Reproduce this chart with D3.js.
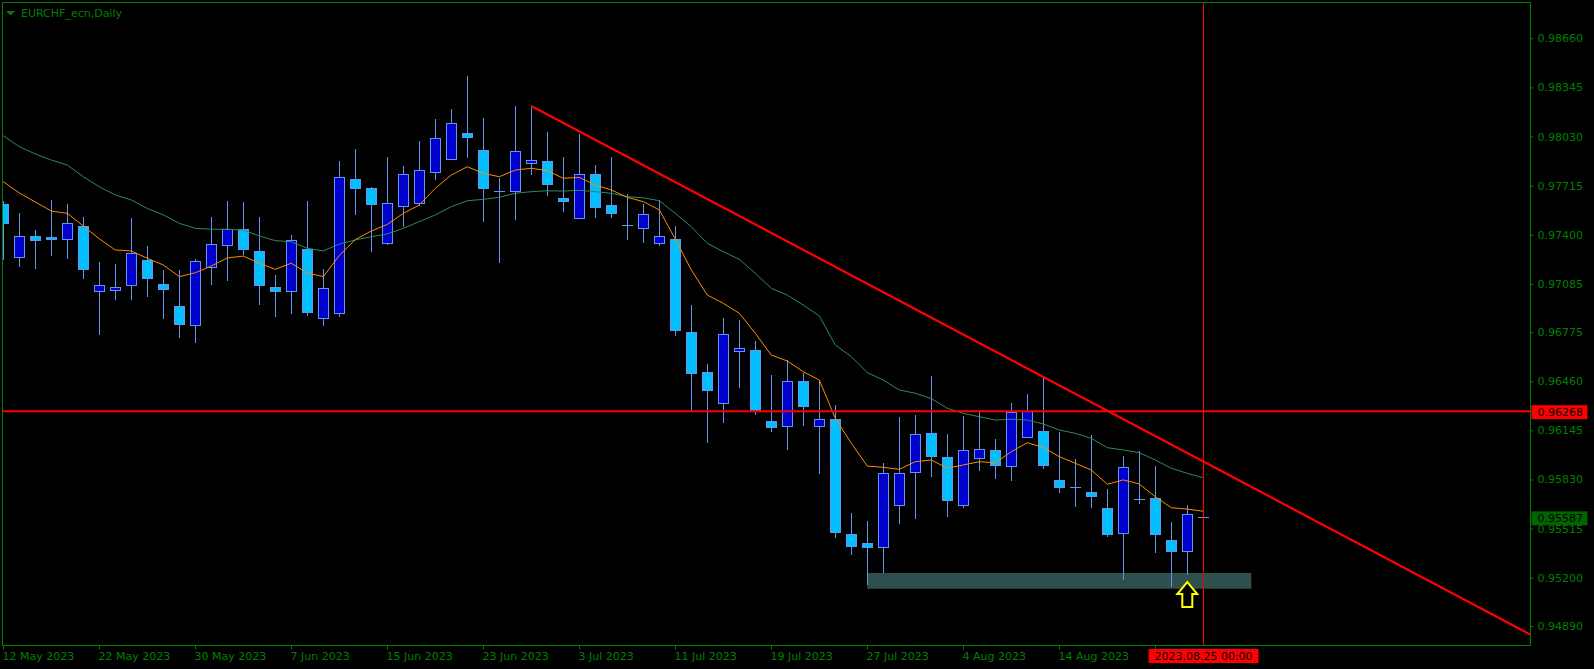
<!DOCTYPE html>
<html><head><meta charset="utf-8">
<script src="https://cdn.jsdelivr.net/npm/d3@7"></script>
<style>html,body{margin:0;padding:0;background:#000;overflow:hidden}svg{display:block}</style>
</head><body>
<svg id="chart" width="1594" height="669"></svg>
<script>
// ---- data ----
const dates = ["2023-05-12","2023-05-15","2023-05-16","2023-05-17","2023-05-18","2023-05-19","2023-05-22","2023-05-23","2023-05-24","2023-05-25","2023-05-26","2023-05-29","2023-05-30","2023-05-31",
"2023-06-01","2023-06-02","2023-06-05","2023-06-06","2023-06-07","2023-06-08","2023-06-09","2023-06-12","2023-06-13","2023-06-14","2023-06-15","2023-06-16","2023-06-19","2023-06-20","2023-06-21","2023-06-22","2023-06-23","2023-06-26","2023-06-27","2023-06-28","2023-06-29","2023-06-30",
"2023-07-03","2023-07-04","2023-07-05","2023-07-06","2023-07-07","2023-07-10","2023-07-11","2023-07-12","2023-07-13","2023-07-14","2023-07-17","2023-07-18","2023-07-19","2023-07-20","2023-07-21","2023-07-24","2023-07-25","2023-07-26","2023-07-27","2023-07-28","2023-07-31",
"2023-08-01","2023-08-02","2023-08-03","2023-08-04","2023-08-07","2023-08-08","2023-08-09","2023-08-10","2023-08-11","2023-08-14","2023-08-15","2023-08-16","2023-08-17","2023-08-18","2023-08-21","2023-08-22","2023-08-23","2023-08-24","2023-08-25"];
const open = [0.97597,0.97255,0.97390,0.97383,0.97371,0.97454,0.97037,0.97043,0.97076,0.97238,0.97084,0.96943,0.96819,0.97191,0.97332,0.97435,0.97296,0.97065,0.97037,0.97308,0.96864,0.96896,0.97757,0.97698,0.97345,0.97582,0.97602,0.97800,0.97884,0.98051,0.97942,0.97679,0.97679,0.97858,0.97871,0.97634,0.97505,0.97788,0.97589,0.97464,0.97441,0.97345,0.97371,0.96774,0.96517,0.96319,0.96656,0.96659,0.96203,0.96171,0.96460,0.96175,0.96216,0.95478,0.95420,0.95395,0.95664,0.95876,0.96126,0.95972,0.95664,0.95970,0.96019,0.95918,0.96100,0.96141,0.95827,0.95780,0.95748,0.95645,0.95485,0.95707,0.95709,0.95440,0.95373,0.95587];
const high = [0.97616,0.97539,0.97430,0.97623,0.97597,0.97514,0.97225,0.97212,0.97507,0.97328,0.97174,0.97174,0.97244,0.97514,0.97616,0.97610,0.97514,0.97142,0.97398,0.97616,0.97180,0.97873,0.97950,0.97706,0.97899,0.97841,0.98001,0.98142,0.98207,0.98418,0.98147,0.97762,0.98226,0.98226,0.98059,0.97899,0.98046,0.97845,0.97899,0.97659,0.97595,0.97621,0.97456,0.96949,0.96571,0.96866,0.96853,0.96718,0.96500,0.96596,0.96511,0.96464,0.96308,0.95615,0.95564,0.95934,0.96231,0.96242,0.96494,0.96122,0.96237,0.96265,0.96090,0.96321,0.96380,0.96481,0.96134,0.95961,0.96115,0.95769,0.95980,0.96013,0.95916,0.95555,0.95666,0.95587];
const low = [0.97242,0.97201,0.97188,0.97270,0.97253,0.97124,0.96765,0.96990,0.96990,0.97009,0.96868,0.96746,0.96714,0.97086,0.97111,0.97278,0.96958,0.96881,0.96900,0.96883,0.96823,0.96881,0.97535,0.97296,0.97340,0.97458,0.97591,0.97759,0.97884,0.97900,0.97490,0.97227,0.97503,0.97791,0.97657,0.97554,0.97505,0.97516,0.97516,0.97374,0.97355,0.97332,0.96759,0.96276,0.96072,0.96201,0.96425,0.96250,0.96143,0.96027,0.96179,0.95873,0.95463,0.95354,0.95159,0.95238,0.95549,0.95585,0.95854,0.95598,0.95655,0.95891,0.95841,0.95828,0.96100,0.95905,0.95751,0.95662,0.95655,0.95469,0.95193,0.95681,0.95367,0.95148,0.95222,0.95587];
const close = [0.97473,0.97390,0.97364,0.97374,0.97473,0.97178,0.97076,0.97063,0.97281,0.97120,0.97054,0.96829,0.97231,0.97339,0.97435,0.97306,0.97076,0.97037,0.97364,0.96906,0.97056,0.97768,0.97698,0.97595,0.97602,0.97788,0.97813,0.98019,0.98115,0.98025,0.97698,0.97679,0.97935,0.97877,0.97723,0.97614,0.97788,0.97576,0.97537,0.97464,0.97531,0.97390,0.96791,0.96511,0.96406,0.96761,0.96671,0.96276,0.96168,0.96460,0.96303,0.96216,0.95495,0.95405,0.95399,0.95870,0.95870,0.96120,0.95979,0.95700,0.96019,0.96023,0.95925,0.96261,0.96269,0.95925,0.95780,0.95780,0.95726,0.95478,0.95908,0.95707,0.95478,0.95373,0.95607,0.95587];
const maFast = [0.97740,0.97668,0.97610,0.97552,0.97537,0.97456,0.97374,0.97302,0.97296,0.97249,0.97206,0.97131,0.97156,0.97199,0.97251,0.97263,0.97217,0.97178,0.97217,0.97154,0.97131,0.97267,0.97369,0.97424,0.97466,0.97537,0.97591,0.97698,0.97783,0.97836,0.97794,0.97772,0.97815,0.97826,0.97811,0.97762,0.97768,0.97719,0.97687,0.97640,0.97612,0.97559,0.97372,0.97174,0.97013,0.96960,0.96896,0.96768,0.96628,0.96590,0.96521,0.96468,0.96222,0.96062,0.95916,0.95908,0.95895,0.95944,0.95955,0.95902,0.95923,0.95944,0.95937,0.96008,0.96066,0.96036,0.95976,0.95934,0.95891,0.95799,0.95827,0.95801,0.95719,0.95649,0.95640,0.95626];
const maSlow = [0.98035,0.97965,0.97918,0.97879,0.97847,0.97772,0.97708,0.97655,0.97623,0.97569,0.97527,0.97473,0.97441,0.97435,0.97435,0.97430,0.97392,0.97362,0.97355,0.97313,0.97296,0.97340,0.97366,0.97387,0.97405,0.97441,0.97484,0.97527,0.97580,0.97618,0.97627,0.97640,0.97666,0.97676,0.97682,0.97680,0.97685,0.97676,0.97666,0.97644,0.97637,0.97618,0.97537,0.97451,0.97345,0.97291,0.97242,0.97153,0.97056,0.97013,0.96949,0.96879,0.96693,0.96618,0.96515,0.96468,0.96404,0.96383,0.96349,0.96287,0.96254,0.96233,0.96211,0.96216,0.96211,0.96186,0.96147,0.96126,0.96094,0.96034,0.96019,0.96002,0.95955,0.95902,0.95869,0.95841];
const yTickValues = [0.98660,0.98345,0.98030,0.97715,0.97400,0.97085,0.96775,0.96460,0.96145,0.95830,0.95515,0.95200,0.94890];
const xTickIndex = [0,6,12,18,24,30,36,42,48,54,60,66,72];
const xTickLabels = ["12 May 2023","22 May 2023","30 May 2023","7 Jun 2023","15 Jun 2023","23 Jun 2023","3 Jul 2023","11 Jul 2023","19 Jul 2023","27 Jul 2023","4 Aug 2023","14 Aug 2023"];
const titleText = "EURCHF_ecn,Daily";
const hLinePrice = 0.96268;
const lastPrice = 0.95587;
const trendIdx = [33, 95];
const trendPrice = [0.98226, 0.94859];
const zoneIdx = [54, 78];
const zonePrice = [0.95230, 0.95129];
const arrowIdx = 74, arrowPrice = 0.95172;
const cursorIdx = 75, cursorLabel = "2023.08.25 00:00";

// ---- layout ----
const L = 2.5, T = 2.5, R = 1530.5, B = 645.5;
const GREEN = "#008000", FONT = "DejaVu Sans, Verdana, sans-serif";
const svg = d3.select("#chart");
svg.append("rect").attr("width",1594).attr("height",669).attr("fill","#000");

const x = d3.scaleLinear().domain([0, 95]).range([3.3, 1523.3]);
const y = d3.scaleLinear().domain([0.94890, 0.98660]).range([626, 38.3]);
const px = i => Math.round(x(i));
const py = v => Math.round(y(v));

svg.append("defs").append("clipPath").attr("id","plot")
  .append("rect").attr("x",L+0.5).attr("y",T+0.5).attr("width",R-L-1).attr("height",B-T-1);
const plot = svg.append("g").attr("clip-path","url(#plot)");

// support zone (background)
plot.append("rect")
  .attr("x", x(zoneIdx[0])).attr("width", x(zoneIdx[1]) - x(zoneIdx[0]))
  .attr("y", y(zonePrice[0])).attr("height", y(zonePrice[1]) - y(zonePrice[0]))
  .attr("fill","#2F4F4F");

// candles
const idx = d3.range(open.length);
const WICK = "#6495ED";
const cg = plot.append("g");
cg.selectAll("line.wick").data(idx).join("line")
  .attr("x1", i => px(i)+0.5).attr("x2", i => px(i)+0.5)
  .attr("y1", i => py(high[i])).attr("y2", i => py(low[i])+1)
  .attr("stroke", WICK).attr("stroke-width",1);
cg.selectAll("rect.body").data(idx.filter(i => Math.abs(py(open[i]) - py(close[i])) >= 1)).join("rect")
  .attr("x", i => px(i)-5+0.5).attr("width",10)
  .attr("y", i => Math.min(py(open[i]), py(close[i]))+0.5)
  .attr("height", i => Math.abs(py(open[i]) - py(close[i])))
  .attr("fill", i => close[i] > open[i] ? "#0000CD" : "#00BFFF")
  .attr("stroke", WICK).attr("stroke-width",1);
cg.selectAll("line.doji").data(idx.filter(i => Math.abs(py(open[i]) - py(close[i])) < 1)).join("line")
  .attr("x1", i => px(i)-5).attr("x2", i => px(i)+6)
  .attr("y1", i => py(close[i])+0.5).attr("y2", i => py(close[i])+0.5)
  .attr("stroke", WICK).attr("stroke-width",1);

// moving averages
const lineGen = arr => d3.line().x((d,i) => x(i)).y(d => y(d))(arr);
plot.append("path").attr("d", lineGen(maSlow)).attr("fill","none").attr("stroke","#2E8B57").attr("stroke-width",1);
plot.append("path").attr("d", lineGen(maFast)).attr("fill","none").attr("stroke","#FF8C00").attr("stroke-width",1);

// horizontal line
plot.append("line").attr("x1",L).attr("x2",R).attr("y1",y(hLinePrice)).attr("y2",y(hLinePrice))
  .attr("stroke","#FF0000").attr("stroke-width",2);
// trend line (ray extended to the right edge, clipped)
const slope = (trendPrice[1] - trendPrice[0]) / (trendIdx[1] - trendIdx[0]);
const endIdx = x.invert(R + 5);
plot.append("line").attr("x1",x(trendIdx[0])).attr("y1",y(trendPrice[0]))
  .attr("x2",x(endIdx)).attr("y2",y(trendPrice[0] + slope * (endIdx - trendIdx[0])))
  .attr("stroke","#FF0000").attr("stroke-width",2.2);
// cursor vertical line
plot.append("line").attr("x1",px(cursorIdx)+0.5).attr("x2",px(cursorIdx)+0.5).attr("y1",T).attr("y2",B)
  .attr("stroke","#FF0000").attr("stroke-width",1);

// arrow
const ax = x(arrowIdx), ay = y(arrowPrice);
plot.append("path")
  .attr("d", `M${ax},${ay} L${ax+10},${ay+12} L${ax+5},${ay+12} L${ax+5},${ay+25} L${ax-5},${ay+25} L${ax-5},${ay+12} L${ax-10},${ay+12} Z`)
  .attr("fill","#000").attr("stroke","#FFFF00").attr("stroke-width",2).attr("stroke-linejoin","miter");

// frame
svg.append("rect").attr("x",L).attr("y",T).attr("width",R-L).attr("height",B-T)
  .attr("fill","none").attr("stroke",GREEN).attr("stroke-width",1);

// title
svg.append("path").attr("d","M6,11 L15,11 L10.5,15.5 Z").attr("fill",GREEN);
svg.append("text").attr("x",21).attr("y",16.5).text(titleText)
  .attr("fill",GREEN).attr("font-family",FONT).attr("font-size",11);

// y axis
const yAxis = d3.axisRight(y).tickValues(yTickValues).tickFormat(d3.format(".5f")).tickSize(3).tickPadding(4);
const yg = svg.append("g").attr("transform",`translate(${R},0)`).call(yAxis);
yg.select(".domain").remove();
yg.selectAll(".tick line").attr("stroke",GREEN);
yg.selectAll(".tick text").attr("fill",GREEN).attr("font-family",FONT).attr("font-size",11);

// x axis (the last tick's label is hidden behind the cursor date tag)
const xg = svg.append("g");
xg.selectAll("line").data(xTickIndex).join("line")
  .attr("x1", i => px(i)+0.5).attr("x2", i => px(i)+0.5).attr("y1",B).attr("y2",B+4)
  .attr("stroke",GREEN);
xg.selectAll("text").data(xTickLabels).join("text")
  .attr("x", (d,k) => px(xTickIndex[k])-0.5).attr("y",660).text(d => d)
  .attr("fill",GREEN).attr("font-family",FONT).attr("font-size",11);

// price labels
function priceTag(price, bg){
  const yy = y(price);
  svg.append("rect").attr("x",R+1).attr("y",yy-6).attr("width",56).attr("height",14).attr("fill",bg);
  svg.append("text").attr("x",R+7).attr("y",yy+5).text(d3.format(".5f")(price))
    .attr("fill","#000").attr("font-family",FONT).attr("font-size",11);
}
priceTag(hLinePrice, "#FF0000");
priceTag(lastPrice, "#006400");

// cursor date label
const cx = px(cursorIdx)+0.5;
svg.append("rect").attr("x",cx-55).attr("y",649).attr("width",110).attr("height",14).attr("fill","#FF0000");
svg.append("text").attr("x",cx).attr("y",660).attr("text-anchor","middle").text(cursorLabel)
  .attr("fill","#000").attr("font-family",FONT).attr("font-size",11);
</script>
</body></html>
